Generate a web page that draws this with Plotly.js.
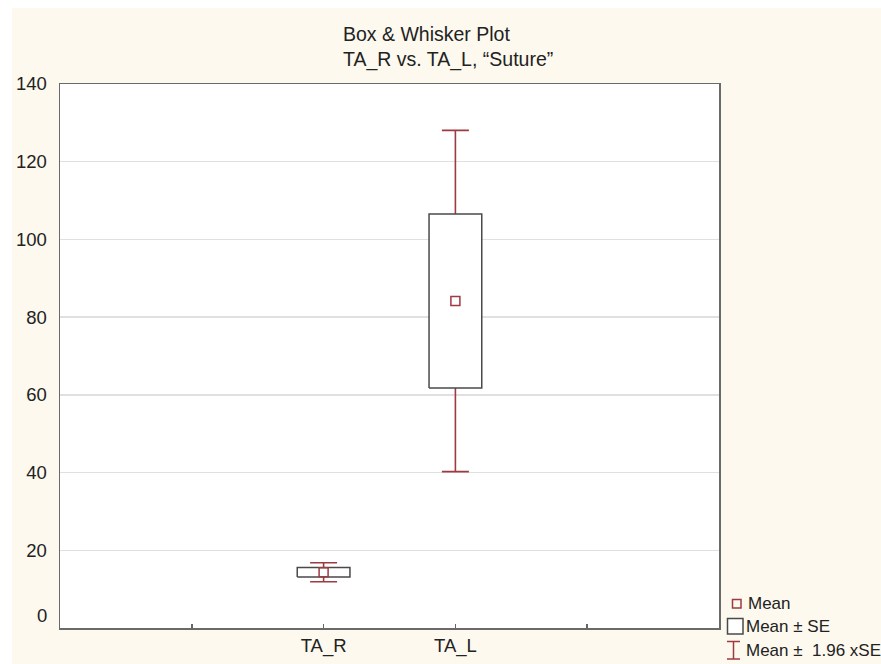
<!DOCTYPE html>
<html>
<head>
<meta charset="utf-8">
<script src="https://cdn.plot.ly/plotly-3.0.1.min.js"></script>
<style>html,body{margin:0;padding:0;background:#fff;}#chart{width:881px;height:664px;}</style>
</head>
<body>
<div id="chart"></div>
<script>
// ---- data ----
const categories = ['TA_R', 'TA_L'];
const catPositions = [2, 3];
const means = [14.35, 84.15];
const stdErrors = [1.25, 22.4];
const ciFactor = 1.96;
const xTickVals = [1, 2, 3, 4];
const xTickText = ['', 'TA_R', 'TA_L', ''];
const yTickVals = [0, 20, 40, 60, 80, 100, 120, 140];
const legendLabels = ['Mean', 'Mean ± SE', 'Mean ±  1.96 xSE'];
const titleLines = ['Box &amp; Whisker Plot', 'TA_R vs. TA_L, “Suture”'];

// ---- style ----
const RED = '#9e3a42';
const BOX = '#4a4a4a';
const FONT = 'Liberation Sans, Arial, sans-serif';
const boxHalf = 0.2;

// plot area pixels
const L = 60, R = 719, T = 84, B = 628, W = 881, H = 664;
const px2x = p => (p - L) / (R - L);
const py2y = p => (B - p) / (B - T);

// whiskers (mean ± 1.96 SE)
const whisk = {
  type: 'scatter', mode: 'markers', x: catPositions, y: means,
  marker: {color: 'rgba(0,0,0,0)', size: 1},
  error_y: {type: 'data', array: stdErrors.map(s => s * ciFactor), visible: true,
            color: RED, thickness: 1.6, width: 13.5},
  hoverinfo: 'skip', showlegend: false
};

// boxes (mean ± SE)
const bx = [], by = [];
catPositions.forEach((p, i) => {
  const lo = means[i] - stdErrors[i], hi = means[i] + stdErrors[i];
  bx.push(p - boxHalf, p + boxHalf, p + boxHalf, p - boxHalf, p - boxHalf, null);
  by.push(lo, lo, hi, hi, lo, null);
});
const box = {
  type: 'scatter', mode: 'lines', x: bx, y: by, fill: 'toself',
  fillcolor: '#ffffff', line: {color: BOX, width: 1.5},
  hoverinfo: 'skip', showlegend: false
};

// means
const meanTr = {
  type: 'scatter', mode: 'markers', x: catPositions, y: means,
  marker: {symbol: 'square-open', size: 9, color: RED, line: {width: 1.5, color: RED}},
  text: categories, showlegend: false
};

const shapes = [
  // white strips around the cream page
  {type: 'rect', xref: 'paper', yref: 'paper', x0: px2x(-5), x1: px2x(12), y0: py2y(H + 5), y1: py2y(-5),
   fillcolor: '#ffffff', line: {width: 0}, layer: 'below'},
  {type: 'rect', xref: 'paper', yref: 'paper', x0: px2x(-5), x1: px2x(W + 5), y0: py2y(8), y1: py2y(-5),
   fillcolor: '#ffffff', line: {width: 0}, layer: 'below'},
  // legend symbols
  {type: 'rect', xref: 'paper', yref: 'paper', x0: px2x(732.5), x1: px2x(741), y0: py2y(608), y1: py2y(599.5),
   fillcolor: 'rgba(0,0,0,0)', line: {color: RED, width: 1.5}},
  {type: 'rect', xref: 'paper', yref: 'paper', x0: px2x(727.5), x1: px2x(743), y0: py2y(634), y1: py2y(618.5),
   fillcolor: '#ffffff', line: {color: BOX, width: 1.5}},
  {type: 'line', xref: 'paper', yref: 'paper', x0: px2x(733.5), x1: px2x(733.5), y0: py2y(659), y1: py2y(641.5),
   line: {color: RED, width: 1.5}},
  {type: 'line', xref: 'paper', yref: 'paper', x0: px2x(727), x1: px2x(740), y0: py2y(641.5), y1: py2y(641.5),
   line: {color: RED, width: 1.5}},
  {type: 'line', xref: 'paper', yref: 'paper', x0: px2x(727), x1: px2x(740), y0: py2y(659), y1: py2y(659),
   line: {color: RED, width: 1.5}}
];

const LEG = 17;
const annotations = [
  {xref: 'paper', yref: 'y', x: 0, y: yTickVals[0], xanchor: 'right', yanchor: 'middle',
   xshift: -11, yshift: 13, text: String(yTickVals[0]), showarrow: false,
   font: {family: FONT, size: 18.5, color: '#222'}},
  {xref: 'paper', yref: 'paper', x: px2x(746), y: py2y(603), xanchor: 'left', yanchor: 'middle',
   text: legendLabels[0], showarrow: false, font: {family: FONT, size: LEG, color: '#222'}},
  {xref: 'paper', yref: 'paper', x: px2x(744), y: py2y(626), xanchor: 'left', yanchor: 'middle',
   text: legendLabels[1], showarrow: false, font: {family: FONT, size: LEG, color: '#222'}},
  {xref: 'paper', yref: 'paper', x: px2x(744), y: py2y(650), xanchor: 'left', yanchor: 'middle',
   text: legendLabels[2].replace('  ', ' &nbsp;'), showarrow: false, font: {family: FONT, size: LEG, color: '#222'}}
];

const layout = {
  width: W, height: H,
  margin: {l: L, r: W - R, t: T, b: H - B, pad: 0},
  paper_bgcolor: '#fdf9ee', plot_bgcolor: '#ffffff',
  font: {family: FONT, size: 18.5, color: '#222'},
  title: {text: titleLines.join('<br>'), xref: 'paper', x: px2x(343), xanchor: 'left',
          yref: 'container', y: 1 - 41 / H, yanchor: 'top',
          font: {family: FONT, size: 19.5, color: '#222'}},
  xaxis: {range: [0, 5], tickvals: xTickVals, ticktext: xTickText, ticks: 'inside', ticklen: 4,
          tickwidth: 1.5, tickcolor: '#666', showgrid: false, zeroline: false,
          showline: true, mirror: true, linecolor: '#6a6a6a', linewidth: 1.5,
          tickfont: {family: FONT, size: 18.5, color: '#222'}},
  yaxis: {range: [0, 140], tickvals: yTickVals.slice(1), ticks: '', showgrid: true,
          gridcolor: '#e0e0e0', gridwidth: 1.5, zeroline: false,
          showline: true, mirror: true, linecolor: '#6a6a6a', linewidth: 1.5,
          ticklabelstandoff: 8,
          tickfont: {family: FONT, size: 18.5, color: '#222'}},
  shapes: shapes, annotations: annotations, showlegend: false
};

Plotly.newPlot('chart', [whisk, box, meanTr], layout, {displayModeBar: false, staticPlot: true});
</script>
</body>
</html>
